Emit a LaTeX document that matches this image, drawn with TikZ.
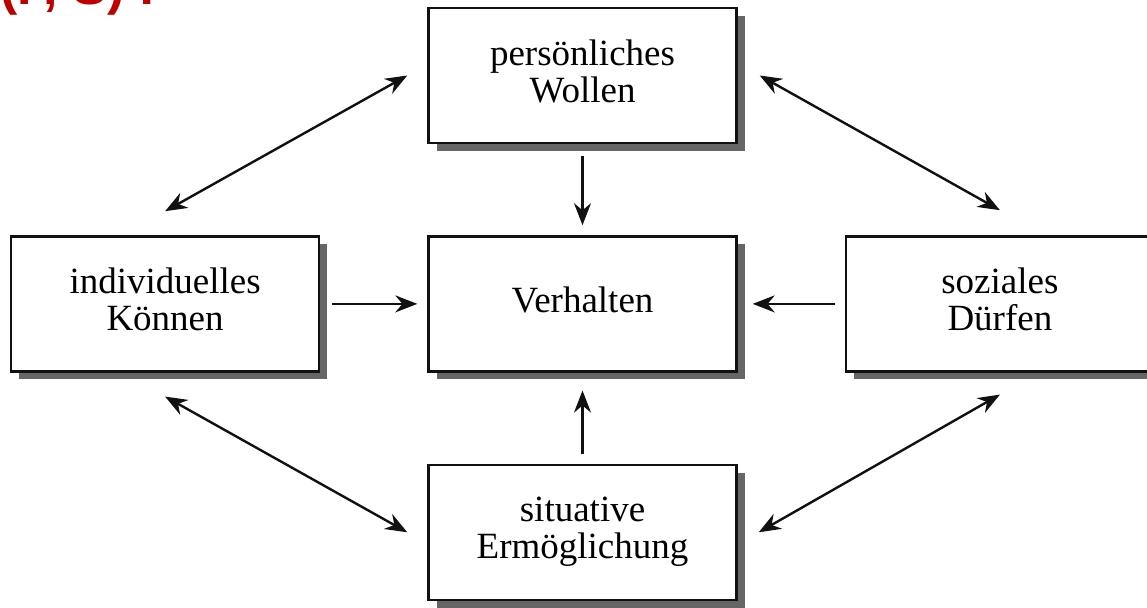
\documentclass[tikz,border=0pt]{standalone}
\usepackage{fontspec}
\setmainfont{Liberation Serif}
\newfontfamily\headfont{Liberation Sans}
\usetikzlibrary{arrows.meta,positioning,shadows}
\definecolor{headred}{HTML}{C00000}
\definecolor{inkblack}{HTML}{111111}
\definecolor{shadegray}{HTML}{666666}
\tikzset{
  factor/.style={rectangle,draw=inkblack,line width=2.4pt,fill=white,
    minimum width=308pt,minimum height=135pt,align=center,text depth=9pt,
    font=\fontsize{37}{37}\selectfont,
    drop shadow={shadow xshift=8pt,shadow yshift=-8pt,fill=shadegray,opacity=1}},
  arrow/.style={-{Stealth[length=22pt,width=17pt]},line width=2.4pt,draw=inkblack},
  twoway/.style={{Stealth[length=22pt,width=17pt]}-{Stealth[length=22pt,width=17pt]},
    line width=2.4pt,draw=inkblack}
}

\begin{document}
\begin{tikzpicture}[x=1pt,y=1pt,node distance=91pt and 107pt]
\useasboundingbox (0,0) rectangle (1147,607);
\node[anchor=base west,inner sep=0pt,text=headred,font=\headfont\bfseries\fontsize{52}{52}\selectfont] (heading) at (0,602) {(F, S) :};
\node[factor] (wollen) at (582.5,531.5) {persönliches\\Wollen};
\node[factor,below=of wollen] (verhalten) {Verhalten};
\node[factor,below=of verhalten] (ermoeglichung) {situative\\Ermöglichung};
\node[factor,left=of verhalten] (koennen) {individuelles\\Können};
\node[factor,right=of verhalten] (duerfen) {soziales\\Dürfen};
% Einfluesse auf das Verhalten
\draw[arrow] ([yshift=-12pt]wollen.south) -- ([yshift=10pt]verhalten.north);
\draw[arrow] ([yshift=10pt]ermoeglichung.north) -- ([yshift=-18pt]verhalten.south);
\draw[arrow] ([xshift=12pt]koennen.east) -- ([xshift=-10pt]verhalten.west);
\draw[arrow] ([xshift=-10pt]duerfen.west) -- ([xshift=15pt]verhalten.east);
% Wechselwirkungen
\draw[twoway] ([xshift=-20pt]wollen.west) -- ([yshift=24pt]koennen.north);
\draw[twoway] ([xshift=22pt]wollen.east) -- ([yshift=25pt]duerfen.north);
\draw[twoway] ([yshift=-24pt]koennen.south) -- ([xshift=-20pt]ermoeglichung.west);
\draw[twoway] ([yshift=-22pt]duerfen.south) -- ([xshift=21pt]ermoeglichung.east);
\end{tikzpicture}
\end{document}
